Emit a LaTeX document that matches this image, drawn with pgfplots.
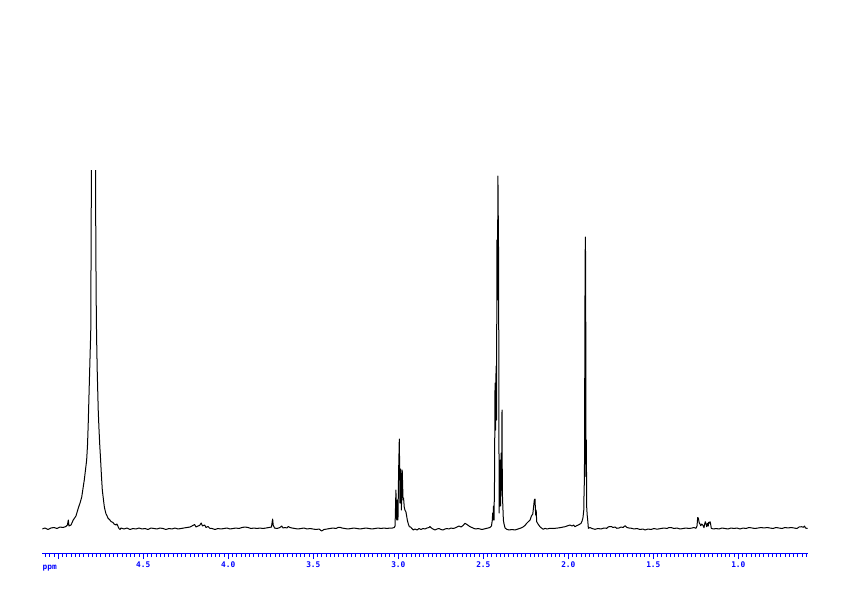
\documentclass[border=0pt]{standalone}
\usepackage{pgfplots}
\pgfplotsset{compat=1.18}
\usepackage{fontspec}
\newfontfamily\tickfont{DejaVu Sans Mono}
\begin{document}
\begin{tikzpicture}
\begin{axis}[name=ax, scale only axis, width=382.7pt, height=191.85pt,
  xmin=0.592, xmax=5.094, ymin=0, ymax=383.7, x dir=reverse,
  axis x line*=bottom, axis y line=none, ytick=\empty,
  x axis line style={blue, line width=0.5pt, -},
  xtick={1,1.5,2,2.5,3,3.5,4,4.5,5},
  xticklabels={1.0,1.5,2.0,2.5,3.0,3.5,4.0,4.5,{}},
  minor xtick={0.6,0.625,...,5.08},
  tick align=outside, major tick length=2.65pt, minor tick length=1.5pt,
  tick style={blue, line width=0.45pt},
  /pgf/number format/assume math mode=true,
  xticklabel style={font=\tickfont\bfseries\fontsize{3.9}{4.5}\selectfont, text=blue, inner sep=1pt},
  clip=true]
\addplot[black, line width=0.5pt, mark=none, line join=round] table {
5.096 24.7
5.078 25.7
5.061 24.2
5.043 25.7
5.025 26.2
5.008 25.2
4.990 26.7
4.972 26.2
4.955 27.2
4.946 28.7
4.941 33.7
4.937 27.7
4.925 28.7
4.912 33.7
4.896 37.7
4.882 45.7
4.872 50.7
4.862 56.7
4.855 64.7
4.847 73.7
4.840 83.7
4.833 93.7
4.828 108.7
4.824 128.7
4.818 166.7
4.812 203.7
4.809 221.7
4.807 303.7
4.804 433.7
4.793 953.7
4.782 433.7
4.779 303.7
4.776 233.7
4.774 211.7
4.771 183.7
4.768 163.7
4.765 143.7
4.761 126.7
4.756 108.7
4.751 93.7
4.746 77.7
4.741 63.7
4.734 53.7
4.729 46.7
4.725 43.7
4.719 39.7
4.714 38.2
4.708 35.7
4.702 34.7
4.696 33.7
4.690 32.2
4.684 31.7
4.678 31.2
4.672 29.7
4.661 28.7
4.655 29.7
4.647 26.7
4.643 25.2
4.637 24.2
4.631 25.7
4.614 24.7
4.596 25.7
4.578 24.2
4.561 25.2
4.543 24.7
4.525 25.7
4.508 24.7
4.490 25.2
4.472 24.2
4.455 25.7
4.437 25.2
4.419 24.7
4.402 25.7
4.384 25.2
4.367 24.2
4.349 25.2
4.331 24.7
4.314 25.7
4.296 24.7
4.278 25.2
4.261 25.7
4.243 26.2
4.225 26.7
4.214 27.7
4.198 29.2
4.190 26.7
4.178 27.7
4.169 28.2
4.159 30.7
4.152 27.7
4.139 28.7
4.131 26.2
4.119 27.2
4.109 25.4
4.096 25.2
4.078 24.2
4.061 25.2
4.043 24.7
4.025 25.2
4.008 25.7
3.990 24.7
3.972 25.2
3.955 25.7
3.937 25.2
3.919 26.2
3.902 26.7
3.884 26.2
3.866 25.2
3.849 25.7
3.831 25.2
3.814 25.7
3.796 25.2
3.778 25.7
3.761 26.2
3.746 26.7
3.741 32.7
3.739 34.7
3.736 28.7
3.728 25.7
3.714 25.2
3.696 26.2
3.686 27.7
3.678 25.7
3.667 26.2
3.655 25.7
3.647 27.2
3.637 26.2
3.625 25.7
3.608 25.2
3.590 24.7
3.572 25.2
3.555 25.7
3.537 24.7
3.519 25.2
3.502 24.7
3.484 24.2
3.466 24.7
3.451 22.7
3.437 24.2
3.419 24.7
3.402 25.2
3.384 25.7
3.366 25.2
3.355 26.2
3.343 26.4
3.331 25.7
3.314 25.2
3.296 24.7
3.278 25.2
3.261 25.7
3.243 25.2
3.225 24.7
3.208 25.2
3.190 25.7
3.172 25.2
3.155 24.7
3.137 25.2
3.119 25.7
3.102 25.2
3.084 25.7
3.066 25.2
3.049 25.7
3.034 25.7
3.024 26.2
3.019 27.7
3.016 48.7
3.014 63.7
3.011 41.7
3.009 33.7
3.006 53.7
3.002 33.7
2.998 83.7
2.994 114.7
2.990 50.7
2.986 84.7
2.982 43.7
2.979 63.7
2.977 83.7
2.972 53.7
2.969 55.7
2.965 46.7
2.961 43.7
2.955 41.7
2.947 33.7
2.941 29.7
2.935 27.0
2.928 26.7
2.921 25.4
2.912 23.7
2.902 24.7
2.890 23.7
2.878 25.2
2.867 24.2
2.855 25.2
2.843 24.7
2.831 25.7
2.819 26.2
2.814 27.2
2.805 25.7
2.796 24.7
2.784 23.7
2.772 24.7
2.761 25.2
2.749 24.2
2.737 23.7
2.725 24.7
2.714 25.2
2.702 24.7
2.690 25.7
2.678 25.2
2.667 25.7
2.655 26.7
2.643 27.7
2.631 26.7
2.619 28.2
2.608 30.4
2.596 29.2
2.584 27.7
2.578 27.0
2.567 26.2
2.555 25.2
2.543 24.7
2.531 25.2
2.519 24.7
2.508 24.2
2.496 24.7
2.484 25.2
2.472 25.7
2.461 26.2
2.452 27.7
2.447 33.7
2.445 40.7
2.442 33.7
2.440 47.7
2.437 33.7
2.434 73.7
2.431 170.7
2.428 123.7
2.425 187.7
2.422 133.7
2.420 313.7
2.417 253.7
2.414 377.7
2.410 293.7
2.407 40.7
2.403 73.7
2.400 93.7
2.398 47.7
2.395 100.7
2.392 63.7
2.390 143.7
2.388 60.7
2.382 33.7
2.378 29.7
2.372 25.7
2.362 24.4
2.349 23.7
2.331 24.2
2.314 23.7
2.296 24.7
2.278 25.7
2.267 26.7
2.255 28.2
2.245 30.4
2.237 31.7
2.225 33.7
2.217 37.7
2.209 39.7
2.205 45.7
2.200 53.7
2.196 54.7
2.192 38.7
2.189 43.7
2.186 32.0
2.178 29.7
2.167 27.0
2.158 25.7
2.147 24.4
2.137 25.4
2.125 24.7
2.108 25.4
2.090 25.2
2.078 25.4
2.061 25.7
2.043 26.2
2.029 26.7
2.019 27.0
2.008 27.7
1.990 28.7
1.978 27.7
1.969 28.7
1.961 27.0
1.949 28.2
1.941 28.7
1.931 29.7
1.925 30.4
1.919 32.7
1.914 35.7
1.909 43.7
1.908 55.7
1.905 77.7
1.902 253.7
1.900 316.7
1.898 290.7
1.896 77.0
1.894 113.7
1.892 47.0
1.889 38.7
1.886 33.7
1.882 25.4
1.872 26.2
1.861 25.2
1.843 24.4
1.825 25.2
1.808 24.7
1.790 25.7
1.774 25.4
1.766 26.7
1.755 27.2
1.745 27.0
1.737 26.2
1.725 26.7
1.715 25.4
1.702 25.7
1.690 26.7
1.678 26.2
1.666 28.0
1.655 26.2
1.643 25.7
1.627 25.4
1.614 24.7
1.596 25.2
1.578 24.2
1.561 24.7
1.549 23.7
1.531 24.7
1.514 24.2
1.496 25.2
1.484 24.7
1.471 24.7
1.455 25.2
1.437 25.7
1.419 25.2
1.408 26.2
1.392 26.0
1.378 25.2
1.361 25.7
1.343 24.7
1.325 25.2
1.308 25.7
1.290 25.2
1.272 25.7
1.261 26.2
1.249 25.4
1.243 27.7
1.239 36.2
1.235 35.4
1.231 31.7
1.229 30.4
1.225 29.7
1.221 28.0
1.215 29.7
1.209 28.7
1.206 27.7
1.202 26.0
1.198 29.7
1.194 32.0
1.190 29.7
1.186 27.0
1.183 29.7
1.180 30.4
1.177 27.7
1.174 31.4
1.171 30.7
1.166 32.0
1.163 29.7
1.159 25.4
1.147 24.7
1.131 25.2
1.114 24.7
1.096 25.7
1.078 25.2
1.061 24.7
1.043 25.7
1.025 25.2
1.008 25.7
0.990 24.7
0.972 25.7
0.955 25.2
0.937 26.2
0.919 25.7
0.902 25.2
0.884 25.7
0.866 26.2
0.849 25.7
0.831 26.2
0.814 25.7
0.796 25.2
0.778 26.2
0.761 25.7
0.743 25.2
0.725 26.2
0.708 25.7
0.690 26.2
0.672 25.7
0.655 25.2
0.643 26.7
0.627 27.0
0.618 26.4
0.611 27.7
0.605 25.7
0.598 25.4
0.590 25.2
};
\end{axis}
\node[anchor=north west, text=blue, font=\tickfont\bfseries\fontsize{3.9}{4.5}\selectfont, inner sep=0pt] at ([yshift=-5.5pt]ax.south west) {ppm};
\pgfresetboundingbox
\path[use as bounding box] ([xshift=-21.15pt,yshift=-21.15pt]ax.south west) rectangle ([xshift=17.15pt,yshift=85pt]ax.north east);
\end{tikzpicture}
\end{document}
